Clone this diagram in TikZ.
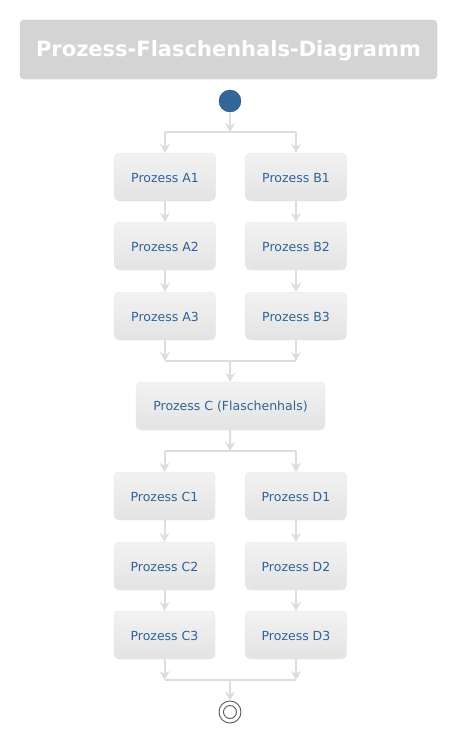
\documentclass[tikz,border=0pt]{standalone}
\usepackage{fontspec}
\setmainfont{DejaVu Sans}
\usetikzlibrary{arrows.meta}
\usetikzlibrary{positioning}

\definecolor{boxtext}{HTML}{2F6297}
\definecolor{boxline}{HTML}{E4E4E4}
\definecolor{flowgrey}{HTML}{DDDDDD}
\definecolor{startblue}{HTML}{336699}

\begin{document}
\begin{tikzpicture}[x=1pt,y=-1pt,
	proc/.style={draw=boxline, rounded corners=5pt, top color=white!95!black, bottom color=white!89!black,
		minimum width=101pt, minimum height=48pt, text=boxtext, text height=11pt, font=\fontsize{12.5}{15}\selectfont},
	flow/.style={draw=flowgrey, line width=2pt, -{Stealth[length=9pt,width=10pt,inset=3pt]}},
	bar/.style={draw=flowgrey, line width=2pt}]
		\useasboundingbox (0,0) rectangle (460,734);
		% Titel
		\node[fill=white!83!black, draw=white!80!black, rounded corners=4pt, minimum width=417pt, minimum height=59pt,
			text=white, text height=18pt, font=\fontsize{21}{25}\selectfont\bfseries] (title) at (228.5,49.5) {Prozess-Flaschenhals-Diagramm};
		\node[circle, fill=startblue, draw=startblue!80!black, minimum size=22pt, inner sep=0pt] (start) at (230,101) {};
		% Zweige A und B
		\foreach \s/\x in {A/165,B/296}
			\foreach \i/\y in {1/177,2/246,3/316}
				\node[proc] (\s\i) at (\x,\y) {Prozess \s\i};
		\node[proc, minimum width=189pt] (C) at (230.5,406) {Prozess C (Flaschenhals)};
		% Zweige C und D
		\foreach \s/\x in {C/164.5,D/296}
			\foreach \i/\y in {1/496,2/566,3/635}
				\node[proc] (\s\i) at (\x,\y) {Prozess \s\i};
		\node[circle, draw=black!65, line width=0.9pt, minimum size=22pt, inner sep=0pt] (stop) at (230,712) {};
		\draw[black!65, line width=0.9pt] (stop) circle (6.5pt);
		\coordinate (fork1) at (230,132);
		\coordinate (join1) at (230,361);
		\coordinate (fork2) at (230,451);
		\coordinate (join2) at (230,680);
		% Verbindungen
		\draw[flow] (start) -- (fork1);
		\draw[bar] (A1 |- fork1) -- (B1 |- fork1);
		\draw[flow] (A1 |- fork1) -- (A1);
		\draw[flow] (B1 |- fork1) -- (B1);
		\foreach \s in {A,B,C,D}{
			\draw[flow] (\s1) -- (\s2);
			\draw[flow] (\s2) -- (\s3);
		}
		\draw[flow] (A3) -- (A3 |- join1);
		\draw[flow] (B3) -- (B3 |- join1);
		\draw[bar] (A3 |- join1) -- (B3 |- join1);
		\draw[flow] (join1) -- (C);
		\draw[flow] (C) -- (fork2);
		\draw[bar] (C1 |- fork2) -- (D1 |- fork2);
		\draw[flow] (C1 |- fork2) -- (C1);
		\draw[flow] (D1 |- fork2) -- (D1);
		\draw[flow] (C3) -- (C3 |- join2);
		\draw[flow] (D3) -- (D3 |- join2);
		\draw[bar] (C3 |- join2) -- (D3 |- join2);
		\draw[flow] (join2) -- (stop);
	\end{tikzpicture}
\end{document}
